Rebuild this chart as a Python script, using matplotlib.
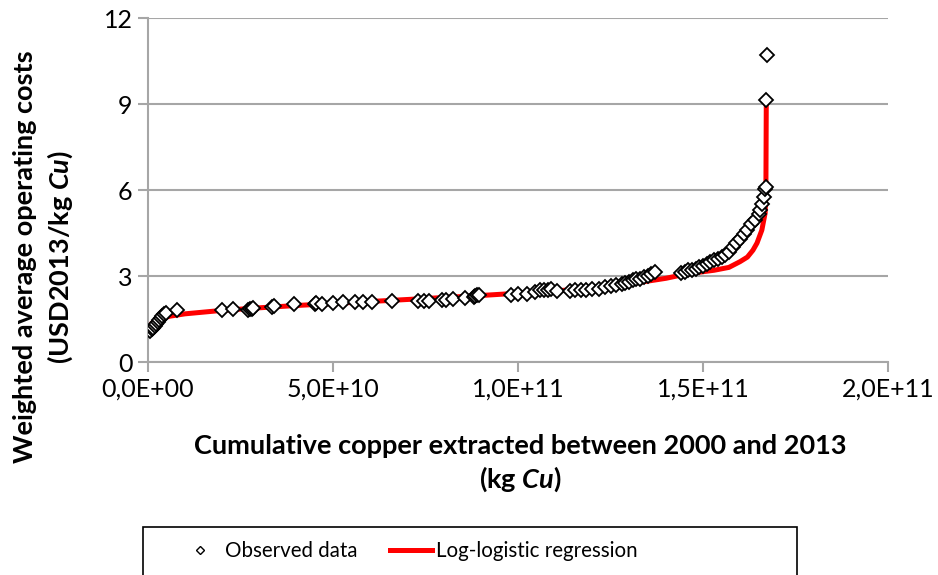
"""Operating cost curve for copper mines: observed data and log-logistic fit."""

import matplotlib

matplotlib.use("Agg")
import matplotlib.pyplot as plt
from matplotlib.patches import Rectangle
from matplotlib.lines import Line2D

FONT = "Lato"
plt.rcParams["font.family"] = [FONT, "DejaVu Sans"]
plt.rcParams["mathtext.fontset"] = "custom"
plt.rcParams["mathtext.it"] = f"{FONT}:italic:bold"

SCALE = 1e10  # x values below are in 1e10 kg Cu

# observed mines (cumulative extraction, weighted cost)
obs_x = [
    0.05, 0.10, 0.14, 0.18, 0.22, 0.26, 0.30, 0.34, 0.38, 0.43, 0.48, 0.78,
    2.0, 2.3, 2.7, 2.75, 2.8, 2.85, 3.35, 3.4, 3.95, 4.5, 4.55, 4.7, 5.0,
    5.27, 5.6, 5.8, 6.05, 6.6, 7.3, 7.45, 7.6, 7.95, 8.05, 8.25, 8.57, 8.8,
    8.85, 8.9, 8.95, 9.8, 10.0, 10.25, 10.45, 10.6, 10.7, 10.8, 10.9, 11.05,
    11.4, 11.55, 11.7, 11.85, 12.0, 12.2, 12.35, 12.5, 12.65, 12.8, 12.9,
    13.0, 13.1, 13.2, 13.3, 13.4, 13.5, 13.6, 13.7, 14.4, 14.5, 14.6, 14.7,
    14.8, 14.9, 15.0, 15.1, 15.2, 15.3, 15.4, 15.5, 15.6, 15.7, 15.8, 15.9,
    16.0, 16.1, 16.2, 16.3, 16.4, 16.5, 16.55, 16.6, 16.65, 16.68, 16.7,
    16.7, 16.72,
]
obs_y = [
    1.08, 1.14, 1.20, 1.27, 1.33, 1.40, 1.47, 1.53, 1.60, 1.66, 1.71, 1.81,
    1.81, 1.85, 1.82, 1.84, 1.86, 1.88, 1.93, 1.97, 2.02, 2.02, 2.05, 2.03,
    2.05, 2.08, 2.08, 2.10, 2.08, 2.12, 2.12, 2.13, 2.12, 2.17, 2.17, 2.20,
    2.23, 2.28, 2.30, 2.32, 2.33, 2.35, 2.36, 2.38, 2.45, 2.50, 2.52, 2.52,
    2.54, 2.47, 2.48, 2.50, 2.50, 2.50, 2.53, 2.55, 2.62, 2.65, 2.68, 2.72,
    2.75, 2.80, 2.85, 2.88, 2.90, 2.95, 3.00, 3.08, 3.14, 3.12, 3.15, 3.20,
    3.22, 3.25, 3.30, 3.35, 3.42, 3.50, 3.55, 3.60, 3.68, 3.75, 3.85, 4.00,
    4.15, 4.30, 4.45, 4.60, 4.80, 4.95, 5.15, 5.30, 5.50, 5.75, 6.05, 6.10,
    9.15, 10.7,
]

# fitted log-logistic curve
fit_x = [
    0.0, 0.02, 0.1, 0.3, 0.6, 1.0, 2.0, 3.0, 4.0, 5.0, 6.0, 7.0, 8.0, 9.0,
    10.0, 11.0, 12.0, 13.0, 14.0, 14.4, 15.0, 15.3, 15.7, 16.0, 16.2, 16.35,
    16.46, 16.59, 16.68, 16.7, 16.71,
]
fit_y = [
    1.05, 1.2, 1.35, 1.5, 1.6, 1.68, 1.8, 1.89, 1.97, 2.04, 2.11, 2.18, 2.25,
    2.32, 2.4, 2.48, 2.57, 2.72, 2.92, 3.03, 3.15, 3.2, 3.3, 3.5, 3.66, 3.9,
    4.15, 4.6, 5.2, 6.0, 9.0,
]

x_ticks = [0.0, 5e10, 1e11, 1.5e11, 2e11]
x_tick_labels = ["0,0E+00", "5,0E+10", "1,0E+11", "1,5E+11", "2,0E+11"]
y_ticks = [0, 3, 6, 9, 12]

GRID = "#a6a6a6"
W, H = 938, 575

fig = plt.figure(figsize=(W / 100, H / 100), dpi=100)
ax = fig.add_axes([148 / W, 1 - 362 / H, 740 / W, 344 / H])

ax.plot([x * SCALE for x in fit_x], fit_y, color="#ff0000", lw=3.6,
        solid_capstyle="butt", zorder=2)
ax.plot([x * SCALE for x in obs_x], obs_y, ls="none", marker="D", ms=6.8,
        mfc="white", mec="black", mew=1.3, zorder=3)

ax.set_xlim(0, 2e11)
ax.set_ylim(0, 12)
ax.set_xticks(x_ticks)
ax.set_xticklabels(x_tick_labels)
ax.set_yticks(y_ticks)
ax.yaxis.grid(True, color=GRID, lw=1.5)
ax.set_axisbelow(True)
for side in ("top", "right"):
    ax.spines[side].set_visible(False)
for side in ("left", "bottom"):
    ax.spines[side].set_color(GRID)
    ax.spines[side].set_linewidth(1.5)
ax.tick_params(colors=GRID, width=1.5, length=7, labelcolor="black",
               labelsize=18, pad=4)

# axis titles sit where the spreadsheet put them, not centred on the axes
fig.text(520 / W, 1 - 464 / H,
         "Cumulative copper extracted between 2000 and 2013\n(kg $\\mathit{Cu}$)",
         ha="center", va="center", fontsize=19.5, fontweight="bold",
         linespacing=1.28, multialignment="center")
fig.text(44 / W, 1 - 257 / H,
         "Weighted average operating costs\n(USD2013/kg $\\mathit{Cu}$)",
         ha="center", va="center", rotation=90, fontsize=19.5,
         fontweight="bold", linespacing=1.38, multialignment="center")

# legend box runs past the bottom edge of the image
fig.add_artist(Rectangle((143 / W, -0.05), 654 / W, 0.05 + 48 / H,
                         transform=fig.transFigure, fill=False,
                         edgecolor="black", lw=1.2))
handles = [
    Line2D([], [], ls="none", marker="D", ms=4, mfc="white", mec="black", mew=1),
    Line2D([], [], color="#ff0000", lw=3.6),
]
fig.legend(handles, ["Observed data", "Log-logistic regression"], ncol=2,
           loc="center left", bbox_to_anchor=(160 / W, 1 - 551 / H),
           frameon=False, fontsize=14.8, handlelength=2.05, columnspacing=1.6,
           handletextpad=0.2)

fig.savefig("out.png", dpi=100)
